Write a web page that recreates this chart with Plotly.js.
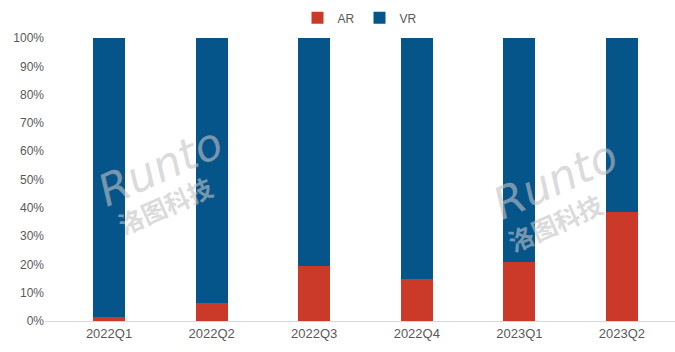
<!DOCTYPE html>
<html>
<head>
<meta charset="utf-8">
<script src="https://cdn.plot.ly/plotly-3.0.1.min.js"></script>
<style>html,body{margin:0;padding:0;background:#fff;}#chart{width:675px;height:352px;}</style>
</head>
<body>
<div id="chart"></div>
<script>
const categories = ['2022Q1', '2022Q2', '2022Q3', '2022Q4', '2023Q1', '2023Q2'];
const arShare = [0.014, 0.063, 0.195, 0.147, 0.207, 0.384];
const vrShare = [0.986, 0.937, 0.805, 0.853, 0.793, 0.616];
const yTickVals = [0, 0.1, 0.2, 0.3, 0.4, 0.5, 0.6, 0.7, 0.8, 0.9, 1.0];
const yTickText = ['0%', '10%', '20%', '30%', '40%', '50%', '60%', '70%', '80%', '90%', '100%'];

const font = "'Liberation Sans Narrow', 'Arial Narrow', 'Liberation Sans', Arial, sans-serif";

const traces = [
  {type: 'bar', name: 'AR', x: categories, y: arShare, marker: {color: '#CB3A29'}, width: 0.31},
  {type: 'bar', name: 'VR', x: categories, y: vrShare, marker: {color: '#05558B'}, width: 0.31}
];

const wm = (x1, y1, x2, y2) => [
  {x: x1, y: y1, xref: 'paper', yref: 'paper', xanchor: 'center', yanchor: 'middle', text: '<i>Runto</i>', showarrow: false,
   textangle: -24, font: {family: "'DejaVu Sans', sans-serif", size: 44, color: 'rgba(195,195,195,0.6)'}},
  {x: x2, y: y2, xref: 'paper', yref: 'paper', xanchor: 'center', yanchor: 'middle', text: '<b>洛图科技</b>', showarrow: false,
   textangle: -24, font: {family: "'Noto Sans CJK SC', sans-serif", size: 25, color: 'rgba(195,195,195,0.6)'}}
];

const layout = {
  width: 675, height: 352,
  margin: {l: 45, r: 0, t: 38, b: 31},
  paper_bgcolor: '#fff', plot_bgcolor: '#fff',
  barmode: 'stack',
  showlegend: true,
  legend: {orientation: 'h', traceorder: 'normal', x: 0.5, xanchor: 'center', y: 1.02, yanchor: 'bottom',
           font: {family: font, size: 12, color: '#595959'}, itemwidth: 30},
  xaxis: {type: 'category', range: [-0.624, 5.517], showline: true, linecolor: '#D9D9D9', linewidth: 1,
          showgrid: false, ticks: '', tickfont: {family: font, size: 13, color: '#595959'}, fixedrange: true},
  yaxis: {range: [0, 1], tickvals: yTickVals, ticktext: yTickText, showgrid: false, zeroline: false,
          showline: false, ticks: '', ticklabelstandoff: 0,
          tickfont: {family: font, size: 12, color: '#595959'}, fixedrange: true},
  annotations: [].concat(wm(0.183, 0.545, 0.19, 0.41), wm(0.81, 0.50, 0.81, 0.35)),
  font: {family: font}
};

Plotly.newPlot('chart', traces, layout, {displayModeBar: false, staticPlot: true});
</script>
</body>
</html>
